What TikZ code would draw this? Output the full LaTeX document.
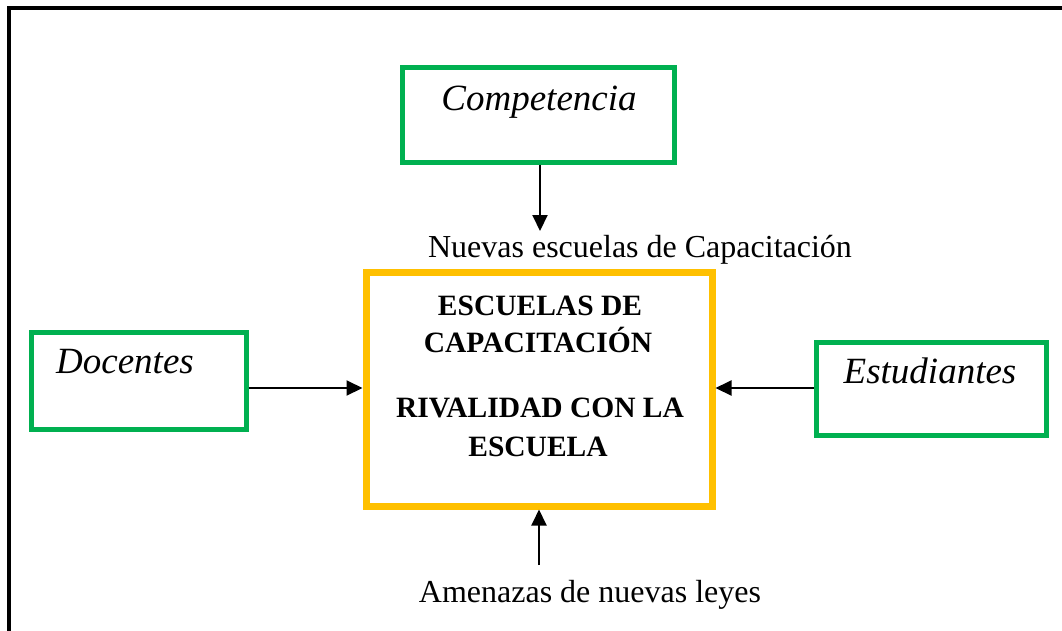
\documentclass[tikz,border=0pt]{standalone}
\usepackage{fontspec}
\setmainfont{Liberation Serif}
\usetikzlibrary{arrows.meta}
\definecolor{boxgreen}{HTML}{00B050}
\definecolor{boxorange}{HTML}{FFC000}
\begin{document}
\begin{tikzpicture}[x=1pt,y=-1pt,
  greenbox/.style={draw=boxgreen,line width=5pt,fill=white,inner sep=0pt},
  orangebox/.style={draw=boxorange,line width=7pt,fill=white,inner sep=0pt},
  cursiva/.style={inner sep=0pt,anchor=base,font=\fontsize{37}{40}\selectfont\itshape},
  plain/.style={inner sep=0pt,anchor=base,font=\fontsize{32}{38}\selectfont},
  boldtxt/.style={inner sep=0pt,anchor=base,font=\fontsize{29.5}{34}\selectfont\bfseries},
  arr/.style={line width=2pt,-{Triangle[length=16pt,width=15pt]}}]
\useasboundingbox (0,0) rectangle (1062,630);
\fill[white] (0,0) rectangle (1062,630);
% outer frame
\draw[line width=4pt,line join=miter] (9,632) -- (9,8) -- (1064,8);
% boxes
\node[greenbox,minimum width=272pt,minimum height=95pt] (comp) at (538,114.5) {};
\node[orangebox,minimum width=346pt,minimum height=234pt] (center) at (539,389) {};
\node[greenbox,minimum width=215pt,minimum height=97pt] (doc) at (138.5,380.5) {};
\node[greenbox,minimum width=230pt,minimum height=93pt] (est) at (931,388.5) {};
% texts
\node[cursiva] (tcomp) at (539,110) {Competencia};
\node[cursiva] (tdoc) at (125,373) {Docentes};
\node[cursiva] (test) at (930,383) {Estudiantes};
\node[plain] (nuevas) at (640,257) {Nuevas escuelas de Capacitación};
\node[plain] (amen) at (590,602) {Amenazas de nuevas leyes};
\node[boldtxt] (l1) at (540,315) {ESCUELAS DE};
\node[boldtxt] (l2) at (538,352) {CAPACITACIÓN};
\node[boldtxt] (l3) at (540,417) {RIVALIDAD CON LA};
\node[boldtxt] (l4) at (538,456) {ESCUELA};
% connectors
\coordinate (ay) at (0,388);
\coordinate (topend) at (540,231);
\coordinate (botstart) at (539,565);
\draw[arr] (comp.south -| topend) -- (topend);
\draw[arr] (doc.east |- ay) -- (center.west |- ay);
\draw[arr] (est.west |- ay) -- (center.east |- ay);
\draw[arr] (botstart) -- (center.south);
\end{tikzpicture}
\end{document}
